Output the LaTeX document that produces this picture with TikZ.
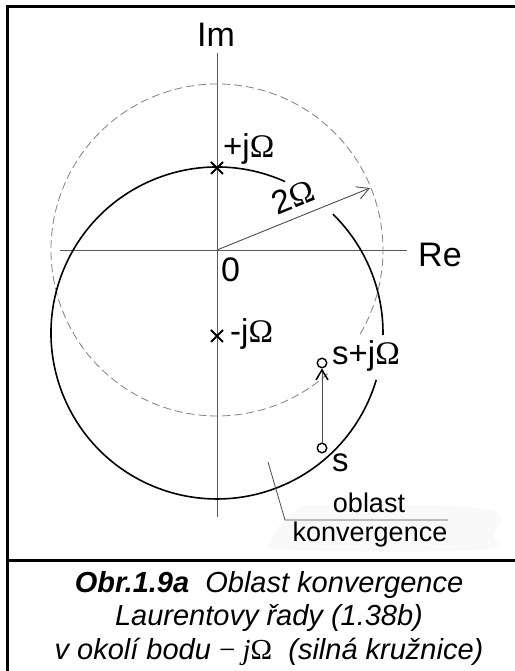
\documentclass[tikz,border=0pt]{standalone}
\usepackage{fontspec}
\setmainfont{Liberation Sans}
\newfontfamily\serifx{Liberation Serif}
\usetikzlibrary{arrows.meta}
\newcommand{\Om}{{\serifx Ω}}
\begin{document}
\begin{tikzpicture}[x=1bp,y=1bp,
  axis/.style={draw=black!65, line width=0.9bp},
  dashcirc/.style={draw=black!50, line width=0.8bp, dash pattern=on 8bp off 4bp},
  strongcirc/.style={draw=black, line width=1.6bp},
  lbl/.style={inner sep=0pt, font=\fontsize{33bp}{38bp}\selectfont},
  axlbl/.style={inner sep=0pt, font=\fontsize{34bp}{40bp}\selectfont},
  smalllbl/.style={inner sep=0pt, font=\fontsize{27bp}{31bp}\selectfont},
  captext/.style={inner sep=0pt, font=\fontsize{29bp}{34bp}\selectfont\itshape},
  xmark/.style={draw=black, line width=2bp},
  ptcirc/.style={circle, draw=black, line width=1.4bp, minimum size=9.5bp, inner sep=0pt},
  frameline/.style={draw=black, line width=3bp},
  arrowline/.style={draw=black!70, line width=0.9bp}
]
\useasboundingbox (0,0) rectangle (515,671);

% faint background blob behind the label
\fill[black!2.5] plot[smooth cycle, tension=0.6] coordinates {(272,132) (292,121) (480,121) (494,136) (486,162) (330,166) (295,160)};

% frame
\draw[frameline] (7,0) |- (515,664);
\draw[frameline] (7,110) -- (515,110);

% named coordinates
\coordinate (O) at (217,421);
\coordinate (C) at (217,338);
\coordinate (P) at (217,503);
\coordinate (M) at (217,335);
\coordinate (ReL) at (60,421);
\coordinate (ReR) at (407,421);
\coordinate (ImT) at (217,618);
\coordinate (ImB) at (217,154);
\coordinate (R2) at (370,483);
\coordinate (L1) at (268,209);
\coordinate (L2) at (285,151);
\coordinate (L3) at (448,151);

% axes
\draw[axis] (ReL) -- (ReR);
\draw[axis] (ImB) -- (ImT);

% dashed circle |z| = 2 Omega
\draw[dashcirc] (O) ++(-30.5:166) arc[start angle=-30.5, end angle=312.1, radius=166];

% strong circle around -j Omega
\draw[strongcirc] (C) ++(65.8:166) arc[start angle=65.8, end angle=343.6, radius=166];
\draw[strongcirc] (C) ++(-0.7:166) arc[start angle=-0.7, end angle=45.7, radius=166];

% radius arrow
\draw[arrowline, -{Straight Barb[length=12bp,width=13bp]}] (O) -- (R2);
\node[lbl, rotate=22] (two) at (293,474) {2\Om};

% crosses
\draw[xmark] (P) ++(-6,-6) -- ++(12,12) (P) ++(-6,6) -- ++(12,-12);
\draw[xmark] (M) ++(-6,-6) -- ++(12,12) (M) ++(-6,6) -- ++(12,-12);

% labels
\node[axlbl, anchor=base] (Im) at (216,624) {Im};
\node[axlbl, anchor=base west] (Re) at (418,404) {Re};
\node[axlbl, anchor=base west] (zero) at (221,389) {0};
\node[lbl, anchor=base west] (pj) at (223,513) {+j\Om};
\node[lbl, anchor=base west] (mj) at (230,328) {-j\Om};

% points s and s+jOmega
\node[ptcirc] (s) at (322,223) {};
\node[ptcirc] (sj) at (322,308) {};
\draw[arrowline, -{Straight Barb[length=10bp,width=12bp,line width=1.5bp,color=black]}] (s) -- (sj);
\node[lbl, anchor=base west] (slbl) at (332,199) {s};
\node[lbl, anchor=base west] (sjlbl) at (332,306) {s+j\Om};

% region label
\draw[draw=black!70, line width=0.8bp] (L1) -- (L2) -- (L3);
\node[smalllbl, anchor=base] (obl) at (369,158) {oblast};
\node[smalllbl, anchor=base] (konv) at (370,129) {konvergence};

% caption
\node[captext, anchor=base] (c1) at (269,78) {\textbf{Obr.1.9a}\ \ Oblast konvergence};
\node[captext, anchor=base] (c2) at (269,45) {Laurentovy řady (1.38b)};
\node[captext, anchor=base] (c3) at (269,11) {v okolí bodu {\serifx\upshape −\ \textit{j}Ω}\ \ (silná kružnice)};
\end{tikzpicture}
\end{document}
